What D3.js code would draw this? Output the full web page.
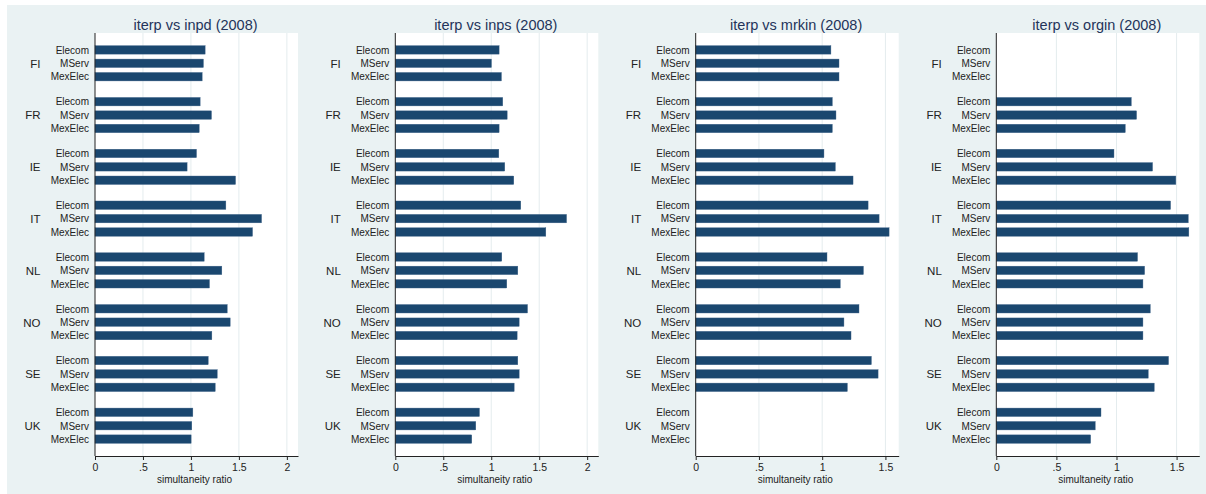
<!DOCTYPE html>
<html><head><meta charset="utf-8">
<script src="https://cdn.jsdelivr.net/npm/d3@7"></script>
<style>
body{margin:0;background:#fff;}
svg{display:block;font-family:"Liberation Sans",Arial,Helvetica,sans-serif;}
</style>
</head><body>
<svg id="chart" width="1206" height="494"></svg>
<script>
// ---- data ----
const countries = ["FI","FR","IE","IT","NL","NO","SE","UK"];
const seriesNames = ["Elecom","MServ","MexElec"];
const panelTitles = ["iterp vs inpd (2008)","iterp vs inps (2008)","iterp vs mrkin (2008)","iterp vs orgin (2008)"];
// values per country: [Elecom, MServ, MexElec]; null = no bar
const inpdVals = [[1.148,1.13,1.117],[1.096,1.214,1.086],[1.058,0.96,1.465],[1.364,1.736,1.642],
                  [1.138,1.322,1.193],[1.378,1.409,1.218],[1.18,1.274,1.253],[1.02,1.009,1.002]];
const inpsVals = [[1.082,1.002,1.106],[1.12,1.166,1.082],[1.079,1.141,1.235],[1.308,1.785,1.569],
                  [1.11,1.277,1.162],[1.378,1.291,1.27],[1.277,1.291,1.239],[0.877,0.839,0.797]];
const mrkinVals = [[1.069,1.133,1.133],[1.08,1.109,1.08],[1.014,1.104,1.244],[1.363,1.45,1.529],
                   [1.038,1.326,1.143],[1.291,1.172,1.228],[1.389,1.442,1.199],[null,null,null]];
const orginVals = [[null,null,null],[1.123,1.167,1.073],[0.979,1.3,1.494],[1.45,1.597,1.602],
                   [1.175,1.234,1.22],[1.281,1.22,1.22],[1.433,1.264,1.314],[0.871,0.823,0.785]];
const ticksA = [0,0.5,1,1.5,2];
const ticksB = [0,0.5,1,1.5];
const axisMax = [2.116,2.116,1.605,1.689];
const axisTitle = "simultaneity ratio";

const panels = [
  {title: panelTitles[0], vals: inpdVals, ticks: ticksA, max: axisMax[0]},
  {title: panelTitles[1], vals: inpsVals, ticks: ticksA, max: axisMax[1]},
  {title: panelTitles[2], vals: mrkinVals, ticks: ticksB, max: axisMax[2]},
  {title: panelTitles[3], vals: orginVals, ticks: ticksB, max: axisMax[3]}
];

// ---- layout ----
const svg = d3.select("#chart");
const bg = "#eaf2f3";
const barColor = "#1a476f";
svg.append("rect").attr("x",7).attr("y",5).attr("width",1199).attr("height",489).attr("fill",bg);

const plotTop = 33, plotBottom = 456, plotW = 203;
const lefts = [95, 395.3, 695.7, 996.3];

const y = d3.scaleBand().domain(countries).range([plotTop,plotBottom])
  .paddingInner(0.2235).paddingOuter(0.197);
const yi = d3.scaleBand().domain(seriesNames).range([0,y.bandwidth()])
  .paddingInner(0.37).paddingOuter(0.185);

const fmt = d => d === 0 ? "0" : String(d).replace(/^0\./, ".");

panels.forEach((p, pi) => {
  const L = lefts[pi];
  const x = d3.scaleLinear().domain([0,p.max]).range([L, L+plotW]);
  const g = svg.append("g");
  // plot region
  g.append("rect").attr("x",L).attr("y",plotTop).attr("width",plotW).attr("height",plotBottom-plotTop).attr("fill","#fff");
  // grid lines
  g.selectAll("line.grid").data(p.ticks.filter(t=>t>0)).join("line")
    .attr("class","grid")
    .attr("x1",d=>x(d)).attr("x2",d=>x(d)).attr("y1",plotTop).attr("y2",plotBottom)
    .attr("stroke","#e4ecee").attr("stroke-width",1);
  // bars
  const rows = [];
  countries.forEach((c,ci)=>seriesNames.forEach((s,si)=>rows.push({c,s,v:p.vals[ci][si]})));
  g.selectAll("rect.bar").data(rows.filter(r=>r.v!=null)).join("rect")
    .attr("class","bar")
    .attr("x",x(0)).attr("y",d=>y(d.c)+yi(d.s))
    .attr("width",d=>x(d.v)-x(0)).attr("height",yi.bandwidth())
    .attr("fill",barColor).attr("stroke","#3d6288").attr("stroke-width",0.4);
  // series labels
  g.selectAll("text.sl").data(rows).join("text")
    .attr("class","sl")
    .attr("x",L-6).attr("y",d=>y(d.c)+yi(d.s)+yi.bandwidth()/2)
    .attr("dy","0.38em").attr("text-anchor","end")
    .attr("font-size","10px").attr("fill","#222")
    .text(d=>d.s);
  // country labels
  g.selectAll("text.cl").data(countries).join("text")
    .attr("class","cl")
    .attr("x",L-54.5).attr("y",d=>y(d)+y.bandwidth()/2)
    .attr("dy","0.38em").attr("text-anchor","end")
    .attr("font-size","11.5px").attr("fill","#222")
    .text(d=>d);
  // y axis line
  g.append("line").attr("x1",L).attr("x2",L).attr("y1",plotTop).attr("y2",plotBottom)
    .attr("stroke","#222").attr("stroke-width",1);
  // x axis
  const ax = g.append("g").attr("transform",`translate(0,${plotBottom})`)
    .call(d3.axisBottom(x).tickValues(p.ticks).tickFormat(fmt).tickSize(4).tickPadding(4).tickSizeOuter(0));
  ax.select(".domain").attr("stroke","#222");
  ax.selectAll(".tick line").attr("stroke","#222");
  ax.selectAll(".tick text").attr("font-size","10.5px").attr("fill","#222")
    .attr("font-family","'Liberation Sans',Arial,sans-serif");
  // axis title
  g.append("text").attr("x",L+plotW/2-2).attr("y",482.5)
    .attr("text-anchor","middle").attr("font-size","10px").attr("fill","#222")
    .text(axisTitle);
  // panel title
  g.append("text").attr("x",L+plotW/2-1).attr("y",29.5)
    .attr("text-anchor","middle").attr("font-size","14.5px").attr("fill","#24345a")
    .text(p.title);
});
</script>
</body></html>
